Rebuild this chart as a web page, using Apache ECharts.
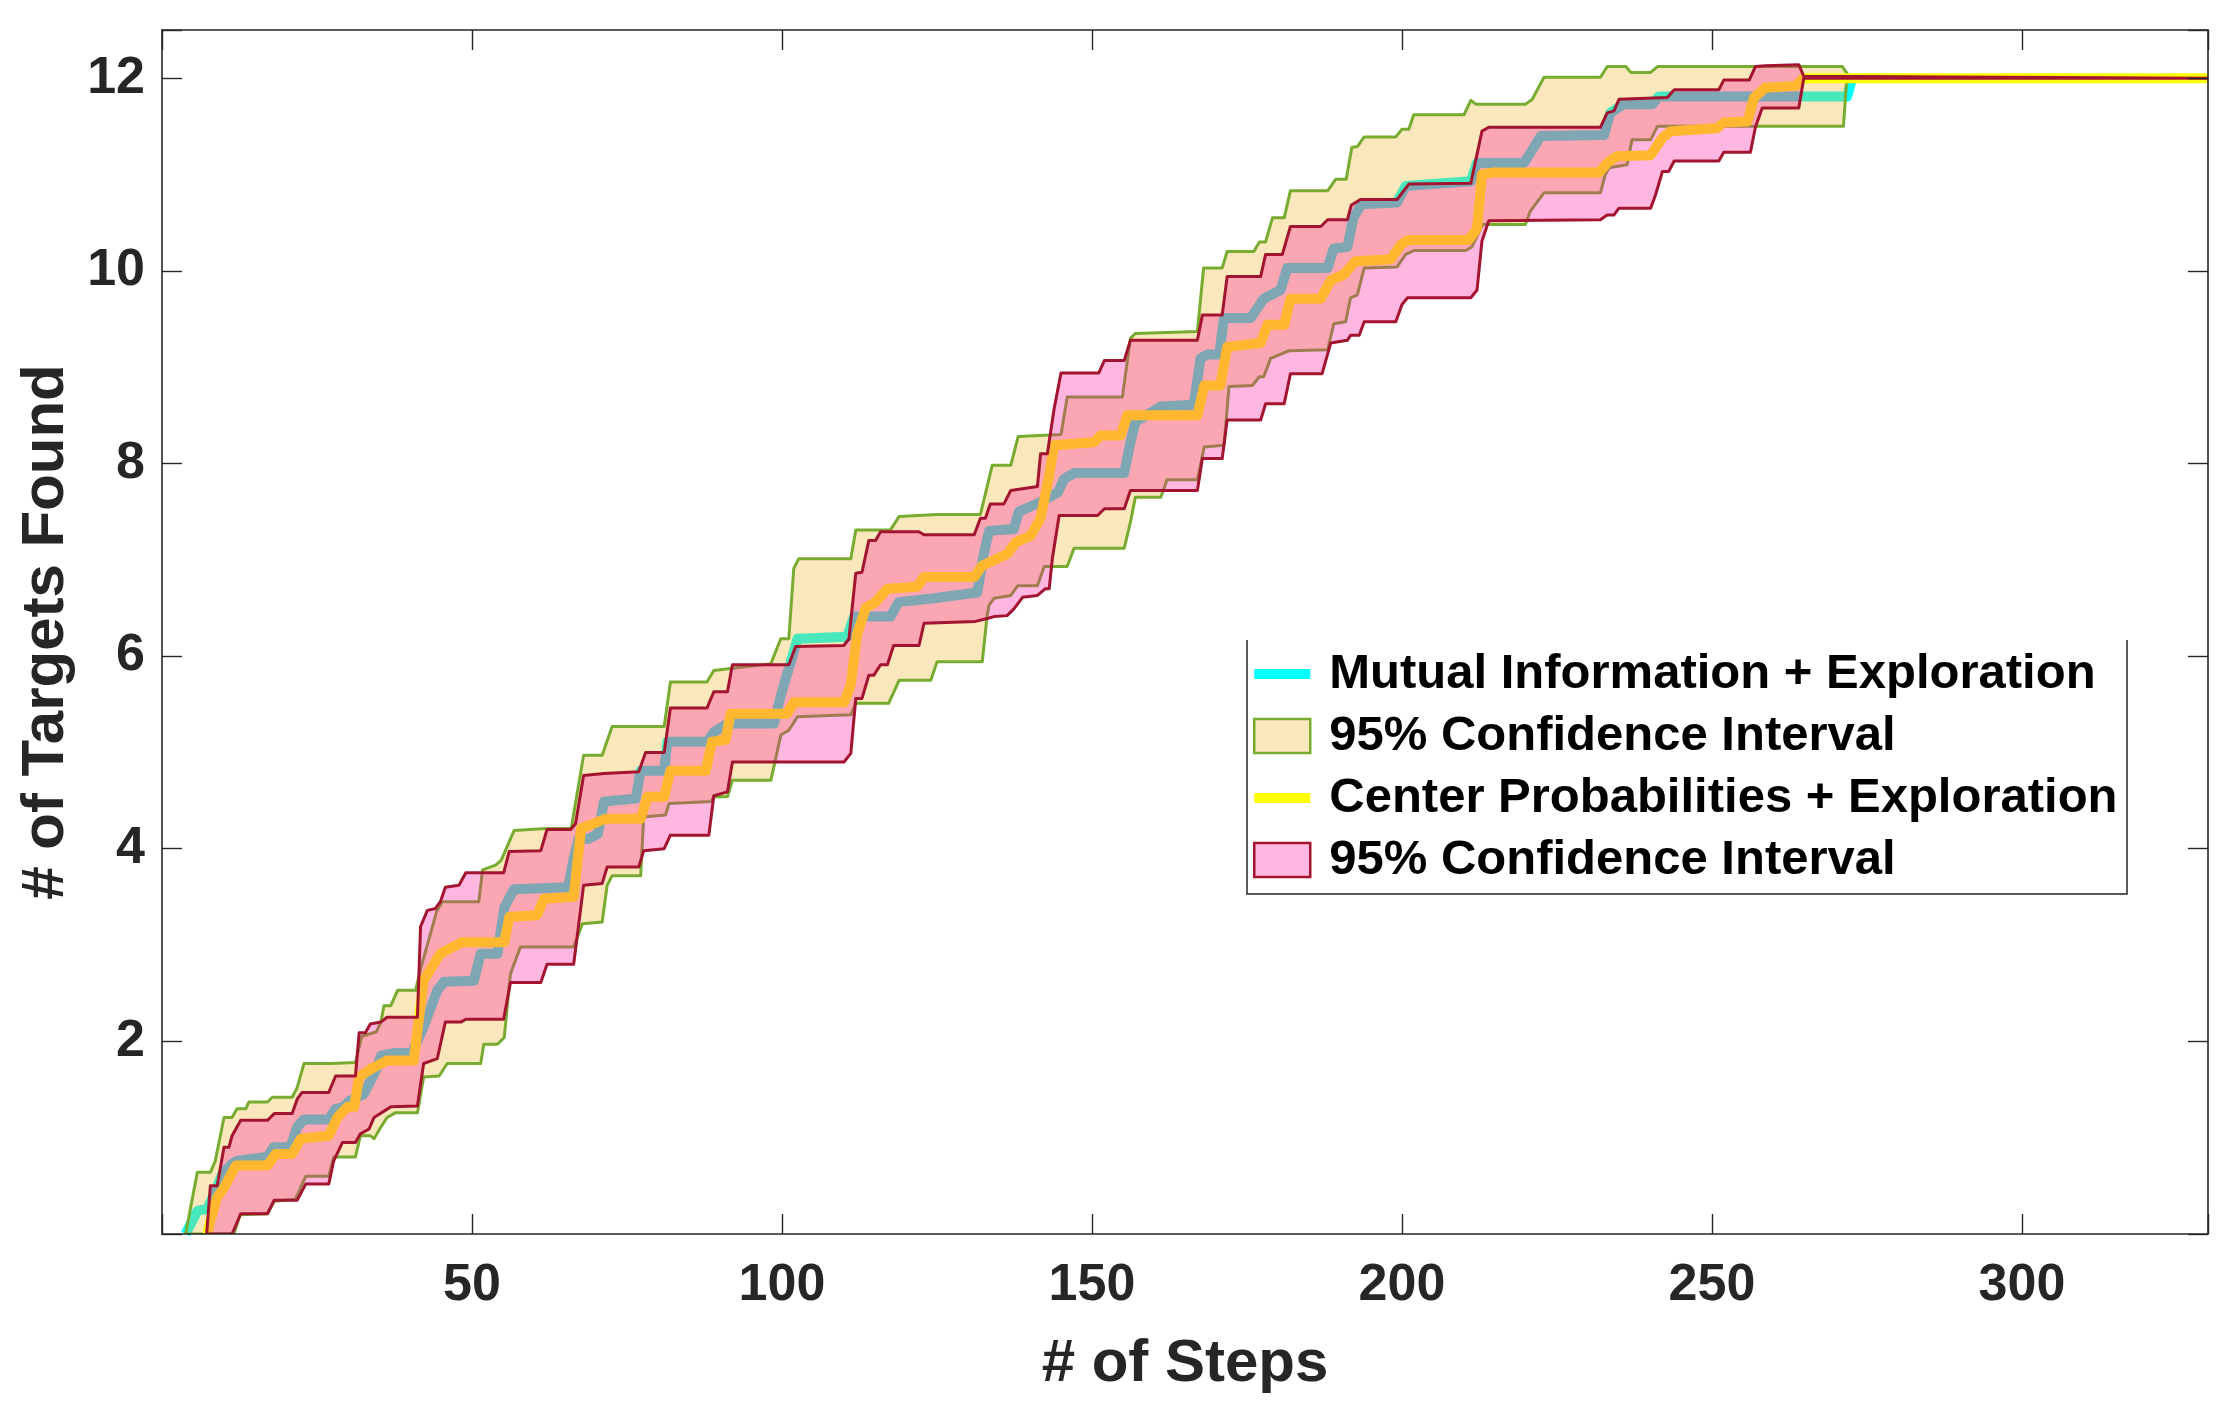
<!DOCTYPE html>
<html>
<head>
<meta charset="utf-8">
<script src="https://cdn.jsdelivr.net/npm/echarts@6/dist/echarts.min.js"></script>
<style>
  html, body { margin: 0; padding: 0; background: #fff; }
  #chart { width: 2235px; height: 1414px; }
</style>
</head>
<body>
<div id="chart"></div>
<script>
// ---------------- DATA (x = # of steps, y = # of targets found) ----------------
const SERIES_NAMES = ['Mutual Information + Exploration', 'MI CI', 'Center Probabilities + Exploration', 'CP CI'];
const LEGEND_LABELS = ['Mutual Information + Exploration', '95% Confidence Interval', 'Center Probabilities + Exploration', '95% Confidence Interval'];
const X_TICKS = [50, 100, 150, 200, 250, 300];
const Y_TICKS = [2, 4, 6, 8, 10, 12];

const MI_MEAN = [[3.8,0],[5.7,0.24],[7.3,0.26],[8.4,0.41],[9.7,0.62],[11.3,0.73],[12.2,0.76],[17.0,0.8],[18.0,0.9],[20.7,0.9],[21.8,1.11],[22.9,1.19],[26.9,1.19],[28.0,1.3],[29.1,1.31],[30.2,1.38],[32.5,1.45],[34.5,1.7],[35.3,1.85],[37.5,1.88],[40.3,1.88],[42.2,2.15],[44.4,2.53],[45.5,2.62],[50.3,2.63],[51.4,2.91],[54.1,2.91],[55.2,3.39],[56.8,3.58],[65.5,3.6],[66.4,3.9],[67.2,4.1],[68.6,4.1],[70.3,4.15],[71.3,4.49],[76.4,4.52],[77.2,4.81],[81.0,4.81],[81.5,5.11],[87.9,5.11],[89.0,5.21],[91.2,5.3],[98.7,5.3],[99.8,5.59],[101.1,5.87],[102.5,6.18],[110.5,6.2],[111.6,6.41],[117.5,6.41],[118.8,6.56],[124.5,6.6],[131.5,6.66],[132.6,7.08],[133.4,7.3],[137.4,7.32],[138.2,7.5],[141.7,7.6],[144.5,7.7],[145.5,7.84],[147.1,7.9],[155.2,7.9],[156.2,8.22],[157.0,8.43],[161.1,8.59],[166.4,8.61],[167.5,9.09],[168.6,9.13],[170.5,9.13],[171.3,9.51],[175.6,9.51],[177.7,9.71],[180.4,9.8],[181.5,10.03],[188.0,10.03],[189.0,10.23],[191.2,10.25],[192.2,10.56],[193.5,10.69],[199.2,10.71],[200.6,10.88],[211.1,10.93],[212.1,11.12],[219.7,11.12],[222.4,11.4],[232.6,11.41],[233.6,11.64],[235.8,11.73],[240.4,11.73],[241.4,11.81],[271.8,11.81],[272.6,12.0]];

const MI_UPPER = [[3.8,0],[5.7,0.64],[7.8,0.64],[8.6,0.76],[10.0,1.21],[11.3,1.21],[12.1,1.3],[13.5,1.3],[14.0,1.37],[17.0,1.37],[17.8,1.42],[21.0,1.42],[21.8,1.52],[22.9,1.77],[27.2,1.77],[31.2,1.78],[32.2,2.05],[34.6,2.1],[35.3,2.2],[35.8,2.37],[36.9,2.37],[38.0,2.53],[40.9,2.53],[41.7,2.75],[44.3,3.35],[45.2,3.45],[51.1,3.45],[51.7,3.78],[53.8,3.83],[54.7,3.88],[56.8,4.19],[61.9,4.21],[66.0,4.21],[68.0,4.97],[71.0,4.97],[72.6,5.27],[81.0,5.27],[82.0,5.73],[87.9,5.73],[89.0,5.85],[91.7,5.87],[98.2,5.92],[99.8,6.18],[101.1,6.18],[101.9,6.91],[102.7,7.01],[111.1,7.01],[111.9,7.31],[117.5,7.31],[118.9,7.45],[125.0,7.47],[132.0,7.47],[133.9,7.98],[136.9,7.98],[138.1,8.28],[145.0,8.3],[146.0,8.69],[154.9,8.69],[156.2,9.3],[157.0,9.35],[167.0,9.37],[168.0,10.03],[171.0,10.03],[171.8,10.2],[176.1,10.2],[177.0,10.3],[178.0,10.3],[179.1,10.55],[181.0,10.55],[182.0,10.83],[188.0,10.83],[189.3,10.95],[191.0,10.95],[191.9,11.28],[192.8,11.29],[193.9,11.39],[199.0,11.39],[200.0,11.47],[201.1,11.47],[201.9,11.62],[210.0,11.62],[211.1,11.77],[211.9,11.73],[219.9,11.73],[221.0,11.78],[222.9,12.01],[232.0,12.01],[233.1,12.12],[236.1,12.12],[236.9,12.06],[240.1,12.06],[241.2,12.12],[271.0,12.12],[271.8,12.05]];

const MI_LOWER = [[11.6,0],[12.6,0.2],[17.0,0.21],[18.1,0.34],[21.5,0.36],[23.2,0.6],[26.9,0.6],[27.7,0.8],[31.2,0.8],[32.0,1.02],[33.6,1.02],[34.2,0.99],[35.3,1.11],[36.3,1.21],[37.7,1.26],[41.2,1.26],[42.2,1.63],[44.7,1.64],[46.0,1.77],[51.4,1.77],[51.9,1.97],[54.1,1.97],[55.2,2.04],[56.2,2.7],[57.8,2.98],[66.4,2.98],[67.8,3.22],[71.0,3.24],[71.8,3.62],[72.6,3.72],[77.2,3.72],[77.7,4.33],[81.2,4.35],[81.8,4.47],[88.5,4.49],[89.0,4.54],[91.2,4.54],[92.0,4.71],[98.2,4.71],[99.0,4.94],[99.8,5.18],[101.1,5.23],[102.5,5.37],[111.1,5.39],[111.9,5.51],[117.2,5.51],[118.9,5.75],[124.0,5.75],[125.0,5.94],[132.3,5.94],[133.1,6.43],[133.4,6.53],[134.2,6.6],[136.9,6.63],[138.0,6.73],[141.2,6.73],[142.3,6.93],[146.0,6.93],[147.1,7.12],[155.2,7.12],[156.2,7.39],[157.0,7.65],[161.1,7.65],[162.1,7.83],[167.0,7.83],[168.1,8.17],[171.3,8.19],[172.1,8.8],[175.9,8.81],[177.0,8.9],[177.7,8.9],[178.8,9.09],[181.8,9.17],[188.0,9.18],[189.0,9.45],[190.9,9.47],[191.7,9.72],[192.8,9.75],[193.9,10.03],[199.2,10.04],[200.6,10.17],[201.9,10.21],[210.3,10.21],[211.3,10.25],[213.0,10.48],[219.9,10.48],[220.7,10.62],[222.9,10.81],[232.0,10.81],[232.8,11.0],[233.4,11.07],[236.3,11.1],[237.1,11.36],[240.1,11.36],[241.2,11.5],[271.2,11.5]];

const CP_MEAN = [[7.3,0],[7.8,0.14],[8.9,0.38],[10.0,0.48],[11.9,0.71],[17.0,0.71],[18.3,0.83],[21.0,0.83],[22.4,0.99],[26.9,1.02],[28.3,1.21],[29.9,1.32],[31.0,1.32],[31.8,1.63],[33.6,1.71],[36.3,1.8],[40.6,1.8],[42.2,2.63],[44.9,2.91],[48.4,3.03],[55.2,3.03],[56.0,3.29],[60.5,3.31],[61.6,3.48],[66.4,3.5],[67.6,4.21],[71.5,4.31],[77.2,4.31],[78.3,4.54],[81.0,4.54],[82.0,4.81],[87.7,4.81],[88.7,5.11],[90.9,5.13],[91.7,5.4],[100.8,5.4],[101.9,5.52],[110.0,5.52],[111.1,5.7],[112.1,6.22],[113.5,6.5],[115.1,6.56],[117.0,6.7],[121.8,6.72],[122.9,6.82],[131.0,6.82],[132.3,6.94],[134.7,7.01],[136.3,7.06],[137.7,7.18],[140.1,7.25],[141.7,7.43],[143.1,7.88],[143.9,8.19],[150.3,8.22],[151.4,8.29],[154.6,8.29],[155.7,8.5],[167.0,8.5],[168.1,8.81],[170.7,8.81],[171.8,9.21],[177.2,9.25],[178.3,9.44],[181.0,9.44],[182.0,9.71],[186.9,9.71],[188.5,9.9],[190.6,9.96],[192.5,10.1],[198.2,10.12],[199.8,10.27],[201.0,10.32],[210.8,10.32],[212.1,10.44],[212.9,11.0],[214.6,11.02],[231.8,11.02],[233.1,11.12],[234.7,11.19],[240.1,11.2],[242.0,11.38],[243.3,11.45],[250.8,11.48],[251.9,11.54],[255.7,11.55],[256.8,11.8],[258.6,11.9],[263.5,11.92],[264.8,12.0],[330,12.0]];

const CP_UPPER = [[7.2,0],[7.8,0.5],[8.9,0.5],[10.0,0.9],[10.8,0.9],[11.3,1.02],[12.7,1.18],[17.0,1.18],[18.1,1.25],[21.0,1.25],[21.8,1.4],[22.6,1.47],[26.9,1.47],[28.0,1.64],[31.2,1.64],[31.8,2.09],[32.8,2.09],[33.6,2.18],[35.3,2.2],[36.3,2.25],[41.2,2.25],[41.7,3.19],[42.8,3.36],[44.1,3.38],[44.9,3.45],[45.7,3.6],[47.9,3.62],[49.0,3.75],[55.1,3.75],[56.0,3.97],[61.1,3.98],[62.1,4.2],[65.9,4.2],[66.7,4.26],[68.0,4.76],[71.3,4.78],[76.9,4.8],[78.0,5.0],[81.0,5.0],[82.0,5.46],[87.9,5.46],[89.0,5.63],[91.2,5.63],[92.0,5.91],[101.1,5.91],[102.2,6.1],[110.0,6.11],[110.8,6.18],[111.9,6.86],[112.9,6.87],[114.0,7.2],[115.1,7.2],[115.9,7.29],[122.1,7.29],[122.9,7.26],[131.0,7.26],[132.0,7.43],[132.8,7.43],[133.6,7.58],[135.8,7.58],[136.9,7.72],[141.2,7.76],[141.7,8.1],[142.8,8.1],[143.9,8.57],[145.0,8.94],[151.1,8.94],[152.0,9.07],[155.2,9.07],[156.2,9.28],[167.0,9.28],[167.8,9.54],[171.0,9.54],[171.8,9.94],[177.2,9.94],[178.0,10.17],[180.7,10.17],[182.0,10.46],[186.9,10.46],[188.0,10.53],[191.2,10.53],[191.8,10.68],[193.3,10.74],[199.2,10.74],[201.1,10.9],[211.1,10.91],[212.9,11.45],[214.0,11.49],[232.0,11.49],[233.1,11.64],[234.2,11.66],[235.0,11.78],[242.8,11.8],[243.9,11.88],[251.1,11.88],[251.9,11.98],[256.0,11.98],[257.0,12.12],[258.6,12.13],[264.0,12.14],[264.8,12.02],[330,12.0]];

const CP_LOWER = [[11.3,0],[12.7,0.21],[17.0,0.21],[18.1,0.35],[21.8,0.35],[23.2,0.52],[26.9,0.52],[27.7,0.76],[29.1,0.95],[31.2,0.95],[32.0,1.04],[33.4,1.09],[34.2,1.21],[36.9,1.32],[41.2,1.33],[42.2,1.77],[44.4,1.82],[45.7,2.2],[48.2,2.2],[49.0,2.23],[55.1,2.23],[56.2,2.61],[61.1,2.61],[62.1,2.8],[66.4,2.8],[68.0,3.62],[71.0,3.64],[71.8,3.81],[76.9,3.81],[77.7,3.98],[81.0,4.0],[82.0,4.14],[88.2,4.14],[89.0,4.55],[91.2,4.59],[92.0,4.9],[110.0,4.9],[111.1,4.99],[111.9,5.56],[112.9,5.56],[114.0,5.8],[114.8,5.8],[115.9,5.91],[117.0,5.91],[118.0,6.11],[122.1,6.11],[122.9,6.34],[131.2,6.36],[133.1,6.39],[134.2,6.41],[136.3,6.42],[137.4,6.49],[138.8,6.61],[141.2,6.63],[142.5,6.7],[143.1,6.7],[143.6,7.01],[144.7,7.46],[150.9,7.46],[152.0,7.53],[155.2,7.53],[156.2,7.72],[167.0,7.72],[167.8,8.05],[171.0,8.05],[171.8,8.45],[177.2,8.45],[178.0,8.62],[181.0,8.62],[182.0,8.93],[187.1,8.93],[188.5,9.25],[191.2,9.28],[191.7,9.33],[193.1,9.33],[193.9,9.47],[199.0,9.47],[200.0,9.65],[200.9,9.72],[211.1,9.72],[212.1,9.8],[212.9,10.31],[214.0,10.52],[232.0,10.53],[233.1,10.58],[234.2,10.58],[235.0,10.65],[240.1,10.65],[240.9,10.79],[242.0,11.03],[243.0,11.03],[243.9,11.14],[251.1,11.14],[251.9,11.23],[256.2,11.23],[257.0,11.49],[258.1,11.69],[264.0,11.69],[264.8,12.0],[330,12.0]];

// ---------------- STYLE ----------------
const FONT = '"Liberation Sans", Arial, Helvetica, sans-serif';
const AX = '#262626';
const CYAN = '#00FFFF', YELLOW = '#FFFF00';
const PEACH = 'rgba(237,177,32,0.3)', GREEN = '#77AC30';
const PINK = 'rgba(255,15,160,0.3)', RED = '#A2142F';

function bandRenderer(upper, lower, fill, stroke) {
  return function (params, api) {
    const pts = upper.map(p => api.coord(p)).concat(lower.slice().reverse().map(p => api.coord(p)));
    return {
      type: 'polygon',
      shape: { points: pts },
      style: { fill: fill, stroke: stroke, lineWidth: 3, lineJoin: 'round' },
      silent: true
    };
  };
}

const chart = echarts.init(document.getElementById('chart'), null, { renderer: 'canvas' });

const axisCommon = {
  type: 'value',
  axisLine: { show: true, onZero: false, lineStyle: { color: AX, width: 1.6 } },
  axisTick: { show: true, inside: true, length: 20, lineStyle: { color: AX, width: 1.4 } },
  splitLine: { show: false },
  z: 10
};

const option = {
  animation: false,
  backgroundColor: '#ffffff',
  grid: { left: 162, top: 30, right: 27, bottom: 180, outerBoundsMode: 'none', containLabel: false },
  xAxis: [
    Object.assign({}, axisCommon, {
      position: 'bottom', min: 0, max: 330, interval: 50,
      axisLabel: {
        margin: 26, fontSize: 52, fontWeight: 'bold', color: AX, fontFamily: FONT,
        formatter: v => (X_TICKS.indexOf(v) >= 0 ? String(v) : '')
      },
      name: '# of Steps', nameLocation: 'middle', nameGap: 100,
      nameTextStyle: { fontSize: 60, fontWeight: 'bold', color: AX, fontFamily: FONT }
    }),
    Object.assign({}, axisCommon, {
      position: 'top', min: 0, max: 330, interval: 50, axisLabel: { show: false }
    })
  ],
  yAxis: [
    Object.assign({}, axisCommon, {
      position: 'left', min: 0, max: 12.5, interval: 2,
      axisLabel: {
        margin: 17, fontSize: 52, fontWeight: 'bold', color: AX, fontFamily: FONT,
        formatter: v => (Y_TICKS.indexOf(v) >= 0 ? String(v) : '')
      },
      name: '# of Targets Found', nameLocation: 'middle', nameGap: 86,
      nameTextStyle: { fontSize: 60, fontWeight: 'bold', color: AX, fontFamily: FONT }
    }),
    Object.assign({}, axisCommon, {
      position: 'right', min: 0, max: 12.5, interval: 2, axisLabel: { show: false }
    })
  ],
  legend: {
    orient: 'vertical', left: 1253, top: 649, padding: 0, z: 20,
    itemWidth: 56, itemHeight: 34, itemGap: 12, selectedMode: false,
    textStyle: { fontSize: 49, fontWeight: 'bold', color: '#000', fontFamily: FONT, lineHeight: 50, padding: [0, 0, 0, 14] },
    formatter: name => LEGEND_LABELS[SERIES_NAMES.indexOf(name)],
    data: [
      { name: SERIES_NAMES[0], icon: 'path://M0,0h56v10h-56z', itemStyle: { color: CYAN, borderWidth: 0 } },
      { name: SERIES_NAMES[1], icon: 'rect', itemStyle: { color: PEACH, borderColor: GREEN, borderWidth: 2.5 } },
      { name: SERIES_NAMES[2], icon: 'path://M0,0h56v10h-56z', itemStyle: { color: YELLOW, borderWidth: 0 } },
      { name: SERIES_NAMES[3], icon: 'rect', itemStyle: { color: PINK, borderColor: RED, borderWidth: 2.5 } }
    ]
  },
  graphic: [{
    type: 'polyline', silent: true, z: 20,
    shape: { points: [[1247, 640], [1247, 894], [2127, 894], [2127, 640]] },
    style: { stroke: AX, lineWidth: 1.5, fill: null }
  }],
  series: [
    {
      name: SERIES_NAMES[0], type: 'line', z: 1, data: MI_MEAN, showSymbol: false, symbol: 'none',
      lineStyle: { color: CYAN, width: 10, join: 'round' }, itemStyle: { color: CYAN }, silent: true, clip: true
    },
    {
      name: SERIES_NAMES[1], type: 'custom', z: 2, data: [[0, 0]], clip: true,
      itemStyle: { color: PEACH, borderColor: GREEN },
      renderItem: bandRenderer(MI_UPPER, MI_LOWER, PEACH, GREEN)
    },
    {
      name: SERIES_NAMES[2], type: 'line', z: 3, data: CP_MEAN, showSymbol: false, symbol: 'none',
      lineStyle: { color: YELLOW, width: 10, join: 'round' }, itemStyle: { color: YELLOW }, silent: true, clip: true
    },
    {
      name: SERIES_NAMES[3], type: 'custom', z: 4, data: [[0, 0]], clip: true,
      itemStyle: { color: PINK, borderColor: RED },
      renderItem: bandRenderer(CP_UPPER, CP_LOWER, PINK, RED)
    }
  ]
};

chart.setOption(option);
</script>
</body>
</html>
